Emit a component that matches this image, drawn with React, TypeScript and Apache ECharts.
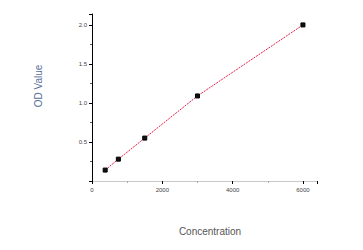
import React, { useEffect, useRef } from "react";
import * as echarts from "echarts";

const concentration = [375, 750, 1500, 3000, 6000];
const odValues = [0.14, 0.28, 0.55, 1.09, 2.0];
const xTicks = [0, 2000, 4000, 6000];
const yTicks = [0.5, 1.0, 1.5, 2.0];
const xTitle = "Concentration";
const yTitle = "OD Value";

export default function App() {
  const ref = useRef<HTMLDivElement>(null);
  useEffect(() => {
    const chart = echarts.init(ref.current!, null, { renderer: "svg" });
    const pts = concentration.map((c, i) => [c, odValues[i]]);
    chart.setOption({
      animation: false,
      backgroundColor: "#fff",
      grid: { left: 92, right: 46, top: 14, bottom: 69 },
      graphic: [
        {
          type: "text",
          x: 210,
          y: 231,
          style: {
            text: xTitle,
            fill: "#555",
            fontSize: 10,
            fontFamily: "Liberation Sans",
            textAlign: "center",
            textVerticalAlign: "middle",
          },
        },
        {
          type: "text",
          x: 38,
          y: 86,
          rotation: Math.PI / 2,
          style: {
            text: yTitle,
            fill: "#56709a",
            fontSize: 10,
            fontFamily: "Liberation Sans",
            textAlign: "center",
            textVerticalAlign: "middle",
          },
        },
      ],
      xAxis: {
        type: "value",
        min: 0,
        max: 6400,
        interval: 2000,
        axisLine: { show: true, onZero: false, lineStyle: { color: "#c8c8c8", width: 1 } },
        axisTick: { show: true, length: 3, lineStyle: { color: "#000" } },
        minorTick: { show: true, splitNumber: 2, length: 2, lineStyle: { color: "#aaa" } },
        splitLine: { show: false },
        axisLabel: {
          fontSize: 6,
          color: "#444",
          margin: 6,
          fontFamily: "Liberation Sans",
          formatter: (v: number) => (xTicks.includes(v) ? String(v) : ""),
        },
      },
      yAxis: {
        type: "value",
        min: 0,
        max: 2.14,
        interval: 0.5,
        axisLine: { show: true, onZero: false, lineStyle: { color: "#000", width: 1 } },
        axisTick: { show: true, length: 3, lineStyle: { color: "#000" } },
        minorTick: { show: true, splitNumber: 2, length: 2, lineStyle: { color: "#555" } },
        splitLine: { show: false },
        axisLabel: {
          fontSize: 6,
          color: "#444",
          margin: 5,
          fontFamily: "Liberation Sans",
          formatter: (v: number) => (yTicks.some((t) => Math.abs(t - v) < 1e-6) ? v.toFixed(1) : ""),
        },
      },
      series: [
        {
          type: "line",
          data: pts,
          symbol: "rect",
          symbolSize: 4,
          itemStyle: { color: "#111", borderColor: "#000" },
          lineStyle: { color: "#e8204a", width: 1, type: [2, 1] },
          z: 2,
        },
      ],
    });
    return () => chart.dispose();
  }, []);
  return <div ref={ref} style={{ width: 363, height: 250, position: "absolute", left: 0, top: 0 }} />;
}
